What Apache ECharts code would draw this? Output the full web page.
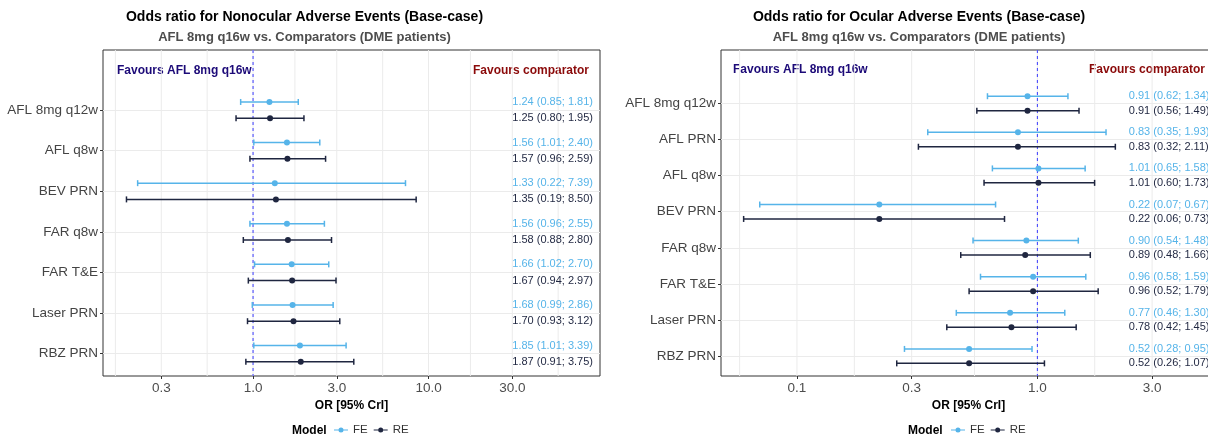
<!DOCTYPE html>
<html>
<head>
<meta charset="utf-8">
<script src="https://cdn.jsdelivr.net/npm/echarts@6/dist/echarts.min.js"></script>
<style>
html, body { margin: 0; padding: 0; background: #fff; }
#main { width: 1208px; height: 440px; }
</style>
</head>
<body>
<div id="main"></div>
<script>
// nonocular panel
var nonCats = ['AFL 8mg q12w', 'AFL q8w', 'BEV PRN', 'FAR q8w', 'FAR T&E', 'Laser PRN', 'RBZ PRN'];
var nonFE   = [1.24, 1.56, 1.33, 1.56, 1.66, 1.68, 1.85];
var nonFELo = [0.85, 1.01, 0.22, 0.96, 1.02, 0.99, 1.01];
var nonFEHi = [1.81, 2.40, 7.39, 2.55, 2.70, 2.86, 3.39];
var nonRE   = [1.25, 1.57, 1.35, 1.58, 1.67, 1.70, 1.87];
var nonRELo = [0.80, 0.96, 0.19, 0.88, 0.94, 0.93, 0.91];
var nonREHi = [1.95, 2.59, 8.50, 2.80, 2.97, 3.12, 3.75];
var nonTicks = [0.3, 1, 3, 10, 30];

// ocular panel
var ocuCats = ['AFL 8mg q12w', 'AFL PRN', 'AFL q8w', 'BEV PRN', 'FAR q8w', 'FAR T&E', 'Laser PRN', 'RBZ PRN'];
var ocuFE   = [0.91, 0.83, 1.01, 0.22, 0.90, 0.96, 0.77, 0.52];
var ocuFELo = [0.62, 0.35, 0.65, 0.07, 0.54, 0.58, 0.46, 0.28];
var ocuFEHi = [1.34, 1.93, 1.58, 0.67, 1.48, 1.59, 1.30, 0.95];
var ocuRE   = [0.91, 0.83, 1.01, 0.22, 0.89, 0.96, 0.78, 0.52];
var ocuRELo = [0.56, 0.32, 0.60, 0.06, 0.48, 0.52, 0.42, 0.26];
var ocuREHi = [1.49, 2.11, 1.73, 0.73, 1.66, 1.79, 1.45, 1.07];
var ocuTicks = [0.1, 0.3, 1, 3];

var FE_COL = '#56B4E9';
var RE_COL = '#1F2640';
var FONT = 'Liberation Sans, Arial, sans-serif';
var lg = Math.log10;

var myChart = echarts.init(document.getElementById('main'));

function fmt(v) { return v.toFixed(2); }

// vertical grid lines: major ticks plus minor ones half way between (log space)
function gridVals(ticks) {
  var l = ticks.map(lg), out = l.slice();
  out.push(l[0] - (l[1] - l[0]) / 2);
  for (var i = 0; i < l.length - 1; i++) out.push((l[i] + l[i + 1]) / 2);
  out.push(l[l.length - 1] + (1 - (l[l.length - 1] - l[l.length - 2])) / 2);
  return out;
}

function vLineSeries(grid, vals, style, z) {
  return {
    name: 'grid' + z, type: 'custom', xAxisIndex: grid, yAxisIndex: grid, z: z, silent: true,
    data: vals.map(function (v) { return [v]; }), encode: { x: 0 },
    renderItem: function (params, api) {
      var p = api.coord([api.value(0), 0]);
      var c = params.coordSys;
      return { type: 'line', shape: { x1: p[0], y1: c.y, x2: p[0], y2: c.y + c.height }, style: style };
    }
  };
}

function barSeries(name, color, grid, est, lo, hi, shift, labelAt) {
  var data = est.map(function (v, i) {
    return [lg(v), lg(lo[i]), lg(hi[i]), i + shift, lg(labelAt)];
  });
  return {
    name: name,
    type: 'custom',
    xAxisIndex: grid,
    yAxisIndex: grid,
    itemStyle: { color: color },
    encode: { x: [0, 1, 2], y: 3 },
    clip: false,
    z: 3,
    data: data,
    renderItem: function (params, api) {
      var y = api.value(3);
      var a = api.coord([api.value(1), y]);
      var b = api.coord([api.value(2), y]);
      var m = api.coord([api.value(0), y]);
      var t = api.coord([api.value(4), y]);
      var i = params.dataIndex;
      var st = { stroke: color, lineWidth: 1.5 };
      return {
        type: 'group',
        children: [
          { type: 'line', shape: { x1: a[0], y1: a[1], x2: b[0], y2: b[1] }, style: st },
          { type: 'line', shape: { x1: a[0], y1: a[1] - 3, x2: a[0], y2: a[1] + 3 }, style: st },
          { type: 'line', shape: { x1: b[0], y1: b[1] - 3, x2: b[0], y2: b[1] + 3 }, style: st },
          { type: 'circle', shape: { cx: m[0], cy: m[1], r: 3 }, style: { fill: color } },
          { type: 'text', x: t[0], y: t[1], style: {
              text: fmt(est[i]) + ' (' + fmt(lo[i]) + '; ' + fmt(hi[i]) + ')',
              fill: color, fontSize: 11, fontFamily: FONT,
              align: 'left', verticalAlign: 'middle' } }
        ]
      };
    }
  };
}

function xAxis(grid, ticks, min, max) {
  var major = ticks.map(lg);
  return {
    gridIndex: grid, type: 'value', min: min, max: max,
    axisLine: { show: false, onZero: false },
    axisTick: { show: true, customValues: major, length: 3, lineStyle: { color: '#333' } },
    axisLabel: { customValues: major, margin: 5, color: '#4d4d4d', fontSize: 13.5, fontFamily: FONT,
      formatter: function (v) { return Math.pow(10, v).toFixed(1); } },
    splitLine: { show: false },
    name: 'OR [95% CrI]', nameLocation: 'middle', nameGap: 21,
    nameTextStyle: { fontWeight: 'bold', fontSize: 12, color: '#000', fontFamily: FONT }
  };
}

function yAxis(grid, cats) {
  var idx = cats.map(function (c, i) { return i; });
  return {
    gridIndex: grid, type: 'value', inverse: true, min: -1.48, max: cats.length - 0.45,
    axisLine: { show: false, onZero: false },
    axisTick: { show: true, customValues: idx, length: 3, lineStyle: { color: '#333' } },
    axisLabel: { customValues: idx, margin: 5, color: '#444', fontSize: 13.5, fontFamily: FONT,
      formatter: function (v) { return cats[Math.round(v)]; } },
    splitLine: { show: true, lineStyle: { color: '#ebebeb', width: 1 } }
  };
}

var legendIcon = 'path://M0,3.4H14V4.6H0Z M4.5,4A2.5,2.5 0 1,1 9.5,4A2.5,2.5 0 1,1 4.5,4Z';

function legendAt(left) {
  return {
    left: left, top: 424, padding: 0, itemGap: 6, itemWidth: 14, itemHeight: 6,
    icon: legendIcon, data: ['FE', 'RE'], selectedMode: false,
    textStyle: { color: '#333', fontSize: 11.5, fontFamily: FONT }
  };
}

function txt(x, y, text, color, align) {
  return { type: 'text', x: x, y: y, silent: true, style: {
    text: text, fill: color, fontSize: 12, fontWeight: 'bold', fontFamily: FONT,
    align: align, verticalAlign: 'middle' } };
}

function titles(center, main) {
  return [
    { text: main, left: center, top: 10, padding: 0, textAlign: 'center',
      textStyle: { fontSize: 14, fontWeight: 'bold', color: '#000', fontFamily: FONT } },
    { text: 'AFL 8mg q16w vs. Comparators (DME patients)', left: center, top: 31, padding: 0, textAlign: 'center',
      textStyle: { fontSize: 13, fontWeight: 'bold', color: '#4d4d4d', fontFamily: FONT } }
  ];
}

var gridStyle = { stroke: '#ebebeb', lineWidth: 1 };
var refStyle = { stroke: '#3c3cff', lineWidth: 1, lineDash: [3, 3] };

myChart.setOption({
  animation: false,
  backgroundColor: '#fff',
  textStyle: { fontFamily: FONT },
  title: titles(304.5, 'Odds ratio for Nonocular Adverse Events (Base-case)')
    .concat(titles(919, 'Odds ratio for Ocular Adverse Events (Base-case)')),
  legend: [legendAt(334), legendAt(951)],
  grid: [
    { left: 103, right: 608, top: 50, bottom: 64, show: true, borderColor: '#333', borderWidth: 1,
      backgroundColor: '#fff', containLabel: false, outerBoundsMode: 'none' },
    { left: 721, right: -8, top: 50, bottom: 64, show: true, borderColor: '#333', borderWidth: 1,
      backgroundColor: '#fff', containLabel: false, outerBoundsMode: 'none' }
  ],
  xAxis: [xAxis(0, nonTicks, -0.855, 1.977), xAxis(1, ocuTicks, -1.316, 0.743)],
  yAxis: [yAxis(0, nonCats), yAxis(1, ocuCats)],
  graphic: [
    txt(117, 71, 'Favours AFL 8mg q16w', '#1c0a78', 'left'),
    txt(589, 71, 'Favours comparator', '#8b0a0a', 'right'),
    txt(733, 70, 'Favours AFL 8mg q16w', '#1c0a78', 'left'),
    txt(1205, 70, 'Favours comparator', '#8b0a0a', 'right'),
    { type: 'text', x: 292, y: 431, silent: true, style: { text: 'Model', fill: '#000', fontSize: 12,
      fontWeight: 'bold', fontFamily: FONT, verticalAlign: 'middle' } },
    { type: 'text', x: 908, y: 431, silent: true, style: { text: 'Model', fill: '#000', fontSize: 12,
      fontWeight: 'bold', fontFamily: FONT, verticalAlign: 'middle' } }
  ],
  series: [
    vLineSeries(0, gridVals(nonTicks), gridStyle, 1),
    vLineSeries(1, gridVals(ocuTicks), gridStyle, 1),
    vLineSeries(0, [0], refStyle, 2),
    vLineSeries(1, [0], refStyle, 2),
    barSeries('FE', FE_COL, 0, nonFE, nonFELo, nonFEHi, -0.2, 30),
    barSeries('RE', RE_COL, 0, nonRE, nonRELo, nonREHi, 0.2, 30),
    barSeries('FE', FE_COL, 1, ocuFE, ocuFELo, ocuFEHi, -0.2, 2.4),
    barSeries('RE', RE_COL, 1, ocuRE, ocuRELo, ocuREHi, 0.2, 2.4)
  ]
});
</script>
</body>
</html>
